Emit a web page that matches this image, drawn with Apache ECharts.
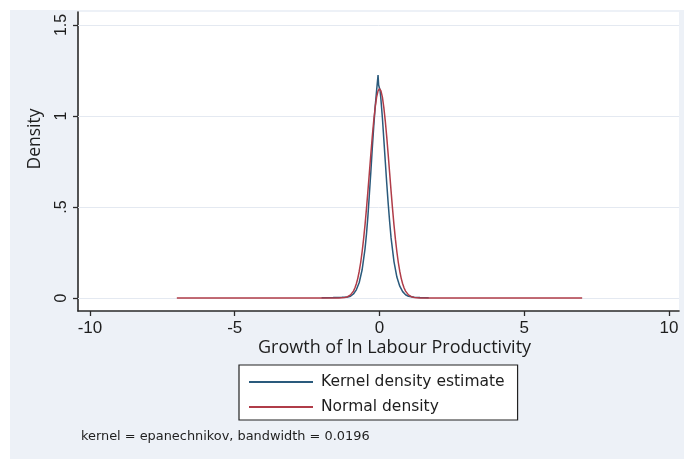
<!DOCTYPE html>
<html>
<head>
<meta charset="utf-8">
<script src="https://cdn.jsdelivr.net/npm/echarts@6/dist/echarts.min.js"></script>
<style>
  html, body { margin: 0; padding: 0; background: #ffffff; }
  #chart { width: 684px; height: 459px; }
</style>
</head>
<body>
<div id="chart"></div>
<script>
// Kernel density estimate of the growth of ln labour productivity
const kdeX = [-2.0, -1.6, -1.3, -1.1, -1.0, -0.9, -0.8, -0.7, -0.6, -0.5, -0.45, -0.4, -0.35, -0.3, -0.25, -0.2, -0.15, -0.1, -0.07, -0.05, -0.03, -0.01, 0.02, 0.05, 0.1, 0.15, 0.2, 0.25, 0.3, 0.35, 0.4, 0.5, 0.6, 0.7, 0.8, 0.9, 1.0, 1.2, 1.4, 1.7];
const kdeY = [0.002, 0.003, 0.004, 0.006, 0.010, 0.022, 0.045, 0.085, 0.155, 0.27, 0.35, 0.45, 0.57, 0.69, 0.82, 0.94, 1.05, 1.14, 1.19, 1.225, 1.17, 1.18, 1.14, 1.09, 0.99, 0.87, 0.75, 0.63, 0.52, 0.42, 0.33, 0.20, 0.115, 0.065, 0.035, 0.018, 0.009, 0.004, 0.003, 0.002];

// Normal density overlay
const normX = [-7, -1.4, -1.2, -1.1, -1.0, -0.9, -0.85, -0.8, -0.75, -0.7, -0.65, -0.6, -0.55, -0.5, -0.45, -0.4, -0.35, -0.3, -0.25, -0.2, -0.15, -0.1, -0.05, 0, 0.05, 0.1, 0.15, 0.2, 0.25, 0.3, 0.35, 0.4, 0.45, 0.5, 0.55, 0.6, 0.65, 0.7, 0.75, 0.8, 0.85, 0.9, 1.0, 1.1, 1.2, 1.4, 7];
const normY = [0, 0.0003, 0.003, 0.007, 0.017, 0.038, 0.055, 0.078, 0.108, 0.147, 0.195, 0.254, 0.323, 0.402, 0.491, 0.587, 0.688, 0.788, 0.885, 0.972, 1.046, 1.103, 1.138, 1.15, 1.138, 1.103, 1.046, 0.972, 0.885, 0.788, 0.688, 0.587, 0.491, 0.402, 0.323, 0.254, 0.195, 0.147, 0.108, 0.078, 0.055, 0.038, 0.017, 0.007, 0.003, 0.0003, 0];

// Axis ticks and labels
const xTicks = [-10, -5, 0, 5, 10];
const yTicks = [0, 0.5, 1, 1.5];
const yTickLabels = ['0', '.5', '1', '1.5'];

const seriesNames = ['Kernel density estimate', 'Normal density'];
const noteText = 'kernel = epanechnikov, bandwidth = 0.0196';
const xTitle = 'Growth of ln Labour Productivity';
const yTitle = 'Density';

const zip = (xs, ys) => xs.map((x, i) => [x, ys[i]]);

const chart = echarts.init(document.getElementById('chart'), null, { renderer: 'canvas' });

const ink = '#1e1e1e';
const axisColor = '#2a2a2a';

chart.setOption({
  animation: false,
  backgroundColor: '#ffffff',
  graphic: [
    {
      type: 'rect',
      z: -100,
      silent: true,
      shape: { x: 10, y: 10, width: 674, height: 449 },
      style: { fill: '#edf1f7' }
    },
    {
      type: 'text',
      x: 35,
      y: 139,
      rotation: Math.PI / 2,
      style: {
        text: yTitle,
        font: '17.5px "Open Sans"',
        fill: ink,
        align: 'center',
        verticalAlign: 'middle'
      }
    }
  ],
  title: [
    {
      text: xTitle,
      left: 258,
      top: 339,
      padding: 0,
      textStyle: { fontFamily: 'Open Sans', fontSize: 18, fontWeight: 'normal', color: ink }
    },
    {
      text: noteText,
      left: 81,
      top: 430,
      padding: 0,
      textStyle: { fontFamily: 'DejaVu Sans', fontSize: 12.9, fontWeight: 'normal', color: ink }
    }
  ],
  legend: {
    orient: 'vertical',
    left: 239,
    top: 365,
    padding: [9, 13, 5, 9],
    itemGap: 9,
    itemWidth: 64,
    itemHeight: 14,
    backgroundColor: '#ffffff',
    borderColor: '#222222',
    borderWidth: 1.2,
    borderRadius: 0,
    data: seriesNames,
    itemStyle: { opacity: 0 },
    textStyle: {
      fontFamily: 'DejaVu Sans',
      fontSize: 15.5,
      color: ink,
      padding: [0, 0, 0, 3]
    }
  },
  grid: {
    show: true,
    left: 78,
    right: 5,
    top: 12,
    bottom: 148,
    backgroundColor: '#ffffff',
    borderWidth: 0,
    containLabel: false
  },
  xAxis: {
    type: 'value',
    min: -10.414,
    max: 10.345,
    axisLine: { show: true, onZero: false, lineStyle: { color: axisColor, width: 1.6 } },
    axisTick: { show: true, customValues: xTicks, length: 5, lineStyle: { color: axisColor, width: 1.3 } },
    axisLabel: {
      customValues: xTicks,
      margin: 9,
      fontFamily: 'Liberation Sans',
      fontSize: 17,
      color: ink
    },
    splitLine: { show: false }
  },
  yAxis: {
    type: 'value',
    min: -0.0714,
    max: 1.571,
    axisLine: { show: true, onZero: false, lineStyle: { color: axisColor, width: 1.6 } },
    axisTick: { show: true, customValues: yTicks, length: 5, lineStyle: { color: axisColor, width: 1.3 } },
    axisLabel: {
      customValues: yTicks,
      rotate: 90,
      margin: 8,
      fontFamily: 'Liberation Sans',
      fontSize: 16,
      color: ink,
      formatter: v => {
        const i = yTicks.findIndex(t => Math.abs(t - v) < 1e-9);
        return i >= 0 ? yTickLabels[i] : '';
      }
    },
    splitLine: { show: false }
  },
  series: [
    {
      name: seriesNames[0],
      type: 'line',
      data: zip(kdeX, kdeY),
      symbol: 'none',
      z: 3,
      lineStyle: { color: '#2a5a7c', width: 1.5 },
      itemStyle: { color: '#2a5a7c' },
      markLine: {
        silent: true,
        symbol: 'none',
        z: 1,
        label: { show: false },
        lineStyle: { color: '#e4e9f1', width: 1, type: 'solid' },
        data: yTicks.map(v => ({ yAxis: v }))
      }
    },
    {
      name: seriesNames[1],
      type: 'line',
      data: zip(normX, normY),
      symbol: 'none',
      z: 3,
      lineStyle: { color: '#b03c48', width: 1.5 },
      itemStyle: { color: '#b03c48' }
    }
  ]
});
</script>
</body>
</html>
